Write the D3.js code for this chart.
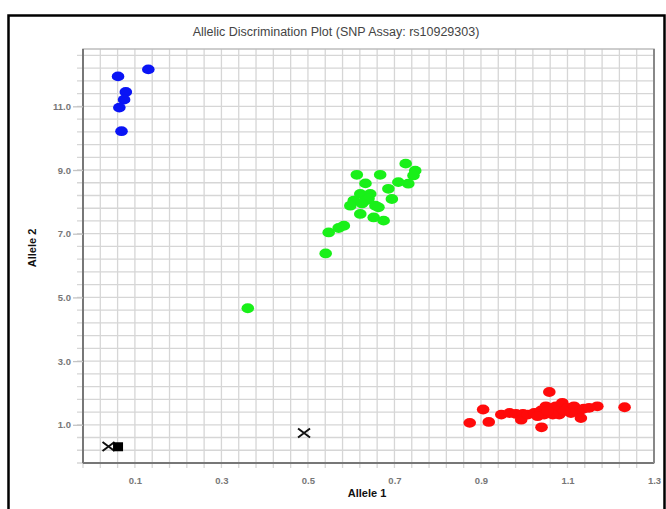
<!DOCTYPE html>
<html>
<head>
<meta charset="utf-8">
<script src="https://cdn.jsdelivr.net/npm/d3@7"></script>
<style>
  body { margin: 0; background: #fff; }
  svg { display: block; font-family: "Liberation Sans", Arial, sans-serif; }
</style>
</head>
<body>
<div id="chart"></div>
<script>
// Allele 1 / Allele 2 values per genotype cluster
var blueAllele1 = [0.131, 0.061, 0.079, 0.075, 0.064, 0.069];
var blueAllele2 = [12.16, 11.94, 11.45, 11.21, 10.96, 10.22];

var greenAllele1 = [0.726, 0.748, 0.744, 0.732, 0.709, 0.686, 0.667, 0.613, 0.633, 0.644,
                    0.621, 0.606, 0.598, 0.656, 0.694, 0.621, 0.652, 0.675, 0.663, 0.633,
                    0.583, 0.571, 0.548, 0.541, 0.361, 0.640, 0.625];
var greenAllele2 = [9.20, 8.98, 8.83, 8.57, 8.62, 8.41, 8.85, 8.85, 8.58, 8.25,
                    8.25, 8.04, 7.88, 7.88, 8.09, 7.62, 7.51, 7.41, 7.83, 8.04,
                    7.25, 7.18, 7.04, 6.38, 4.66, 8.10, 7.95];

var redAllele1 = [0.874, 0.905, 0.918, 1.058, 1.040, 1.232, 1.169, 0.947, 0.966, 0.981,
                  0.997, 0.993, 1.008, 1.023, 1.039, 1.050, 1.046, 1.062, 1.073, 1.088,
                  1.100, 1.115, 1.127, 1.138, 1.150, 1.131, 1.081, 1.066, 1.031, 1.108,
                  1.092, 1.054];
var redAllele2 = [1.06, 1.48, 1.09, 2.03, 0.92, 1.55, 1.58, 1.32, 1.37, 1.34,
                  1.34, 1.16, 1.32, 1.37, 1.45, 1.58, 1.32, 1.48, 1.58, 1.69,
                  1.53, 1.58, 1.43, 1.51, 1.53, 1.21, 1.32, 1.32, 1.27, 1.37,
                  1.43, 1.43];

// no template control (square) and undetermined (x)
var ntcAllele1 = [0.061];
var ntcAllele2 = [0.31];
var undetAllele1 = [0.039, 0.491];
var undetAllele2 = [0.32, 0.74];

var xTickLabels = ["0.1", "0.3", "0.5", "0.7", "0.9", "1.1", "1.3"];
var yTickLabels = ["1.0", "3.0", "5.0", "7.0", "9.0", "11.0"];

var W = 666, H = 509;
var svg = d3.select("#chart").append("svg")
  .attr("width", W)
  .attr("height", H);

var x = d3.scaleLinear().domain([-0.02, 1.3]).range([83, 654]);
var y = d3.scaleLinear().domain([-0.2, 12.8]).range([463, 49]);

// outer frame
svg.append("path")
  .attr("d", "M8.5,509 L8.5,15.5 L664.5,15.5 L664.5,509")
  .attr("fill", "none")
  .attr("stroke", "#000")
  .attr("stroke-width", 2.5);

// title
svg.append("text")
  .attr("x", 336)
  .attr("y", 36)
  .attr("text-anchor", "middle")
  .style("font-size", "12.5px")
  .style("fill", "#444")
  .text("Allelic Discrimination Plot (SNP Assay: rs10929303)");

// grid
var xGrid = d3.range(0, 33).map(function(k) { return -0.02 + k * 0.04; });
var yGrid = d3.range(0, 33).map(function(k) { return -0.2 + k * 0.4; });

svg.append("g")
  .selectAll("line")
  .data(xGrid)
  .enter().append("line")
  .attr("x1", function(d) { return x(d); })
  .attr("x2", function(d) { return x(d); })
  .attr("y1", y(12.8))
  .attr("y2", y(-0.2) + 5)
  .attr("stroke", "#d6d6d6")
  .attr("stroke-width", 1.3);

svg.append("g")
  .selectAll("line")
  .data(yGrid)
  .enter().append("line")
  .attr("x1", x(-0.02) - 6)
  .attr("x2", x(1.3))
  .attr("y1", function(d) { return y(d); })
  .attr("y2", function(d) { return y(d); })
  .attr("stroke", "#d6d6d6")
  .attr("stroke-width", 1.3);

// plot border
svg.append("rect")
  .attr("x", x(-0.02))
  .attr("y", y(12.8))
  .attr("width", x(1.3) - x(-0.02))
  .attr("height", y(-0.2) - y(12.8))
  .attr("fill", "none")
  .attr("stroke", "#bdbdbd")
  .attr("stroke-width", 1.5);

// axis lines
svg.append("line")
  .attr("x1", x(-0.02)).attr("x2", x(-0.02))
  .attr("y1", y(12.8)).attr("y2", y(-0.2))
  .attr("stroke", "#777").attr("stroke-width", 2);
svg.append("line")
  .attr("x1", x(-0.02)).attr("x2", x(1.3))
  .attr("y1", y(-0.2)).attr("y2", y(-0.2))
  .attr("stroke", "#777").attr("stroke-width", 2);
svg.append("line")
  .attr("x1", x(1.3)).attr("x2", x(1.3))
  .attr("y1", y(12.8)).attr("y2", y(-0.2))
  .attr("stroke", "#888").attr("stroke-width", 2);

// tick labels
var xAxis = d3.axisBottom(x)
  .tickValues(xTickLabels.map(Number))
  .tickFormat(function(d, i) { return xTickLabels[i]; })
  .tickSize(0)
  .tickPadding(14);
var gx = svg.append("g")
  .attr("transform", "translate(0," + y(-0.2) + ")")
  .call(xAxis);
gx.select(".domain").remove();
gx.selectAll("text")
  .style("font-size", "9.5px")
  .style("font-weight", "bold")
  .style("fill", "#777")
  .style("font-family", "\"Liberation Sans\", Arial, sans-serif");

var yAxis = d3.axisLeft(y)
  .tickValues(yTickLabels.map(Number))
  .tickFormat(function(d, i) { return yTickLabels[i]; })
  .tickSize(10)
  .tickPadding(2);
var gy = svg.append("g")
  .attr("transform", "translate(" + x(-0.02) + ",0)")
  .call(yAxis);
gy.select(".domain").remove();
gy.selectAll("line").attr("stroke", "#c4c4c4").attr("stroke-width", 1.3);
gy.selectAll("text")
  .style("font-size", "9.5px")
  .style("font-weight", "bold")
  .style("fill", "#777")
  .style("font-family", "\"Liberation Sans\", Arial, sans-serif");

// axis titles
svg.append("text")
  .attr("x", 367)
  .attr("y", 497)
  .attr("text-anchor", "middle")
  .style("font-size", "11px")
  .style("font-weight", "bold")
  .style("fill", "#111")
  .text("Allele 1");

svg.append("text")
  .attr("transform", "translate(36,248) rotate(-90)")
  .attr("text-anchor", "middle")
  .style("font-size", "11px")
  .style("font-weight", "bold")
  .style("fill", "#111")
  .text("Allele 2");

// points
function drawCluster(xs, ys, color) {
  svg.append("g")
    .selectAll("ellipse")
    .data(xs)
    .enter().append("ellipse")
    .attr("cx", function(d) { return x(d); })
    .attr("cy", function(d, i) { return y(ys[i]); })
    .attr("rx", 6.3)
    .attr("ry", 4.9)
    .attr("fill", color);
}
drawCluster(blueAllele1, blueAllele2, "#0a14f5");
drawCluster(greenAllele1, greenAllele2, "#19f019");
drawCluster(redAllele1, redAllele2, "#ff0a0a");

// undetermined
svg.append("g")
  .selectAll("path")
  .data(undetAllele1)
  .enter().append("path")
  .attr("d", function(d, i) {
    var cx = x(d), cy = y(undetAllele2[i]);
    return "M" + (cx - 6) + "," + (cy - 4.5) + "L" + (cx + 6) + "," + (cy + 4.5) +
           "M" + (cx - 6) + "," + (cy + 4.5) + "L" + (cx + 6) + "," + (cy - 4.5);
  })
  .attr("stroke", "#111")
  .attr("stroke-width", 2)
  .attr("fill", "none");

// NTC
svg.append("g")
  .selectAll("rect")
  .data(ntcAllele1)
  .enter().append("rect")
  .attr("x", function(d) { return x(d) - 5; })
  .attr("y", function(d, i) { return y(ntcAllele2[i]) - 4.5; })
  .attr("width", 10)
  .attr("height", 9)
  .attr("fill", "#000");
</script>
</body>
</html>
